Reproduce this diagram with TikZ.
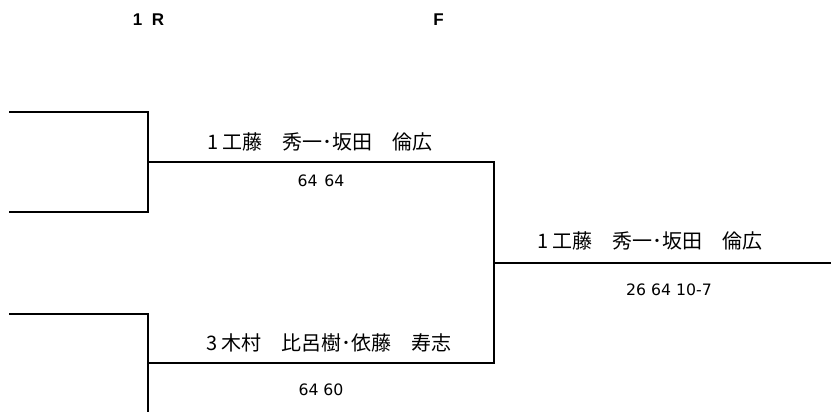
\documentclass[tikz,border=0pt]{standalone}
\usepackage{fontspec}
\setmainfont{Liberation Sans}
\newfontfamily\jp{Noto Sans CJK JP}
\newfontfamily\dig{DejaVu Sans}
\begin{document}
\begin{tikzpicture}[x=1pt,y=-1pt,
  bline/.style={line width=1.8pt,line cap=rect},
  headlbl/.style={font=\fontsize{17}{19}\selectfont\bfseries,inner sep=0pt},
  jpname/.style={font=\jp\fontsize{20}{22}\selectfont,inner sep=0pt},
  scorelbl/.style={font=\dig\fontsize{15.7}{17}\selectfont,inner sep=0pt}]
\useasboundingbox (0,0) rectangle (831,412);
% headers
\node[headlbl] (h1) at (148.5,19.5) {1\ \ R};
\node[headlbl] (hf) at (438.5,19.5) {F};
% coordinates
\coordinate (a1) at (10,112);
\coordinate (b1) at (148,112);
\coordinate (c1) at (148,212);
\coordinate (d1) at (10,212);
\coordinate (m1) at (148,162);
\coordinate (e1) at (494,162);
\coordinate (a2) at (10,314);
\coordinate (b2) at (148,314);
\coordinate (c2) at (148,412);
\coordinate (m2) at (148,363);
\coordinate (e2) at (494,363);
\coordinate (f0) at (494,263);
\coordinate (f1) at (831,263);
% lines
\draw[bline] (a1) -- (b1) -- (c1) -- (d1);
\draw[bline] (m1) -- (e1) -- (e2) -- (m2);
\draw[bline] (a2) -- (b2) -- (c2);
\draw[bline] (f0) -- (f1);
% texts
\node[jpname] (w1) at (320,142) {1 工藤　秀一･坂田　倫広};
\node[scorelbl] (s1) at (321,181) {64\hspace{2pt} 64};
\node[jpname] (w2) at (329,343) {3 木村　比呂樹･依藤　寿志};
\node[scorelbl] (s2) at (321,390) {64 60};
\node[jpname] (wf) at (650,241) {1 工藤　秀一･坂田　倫広};
\node[scorelbl] (sf) at (669,290) {26 64 10-7};
\end{tikzpicture}
\end{document}
